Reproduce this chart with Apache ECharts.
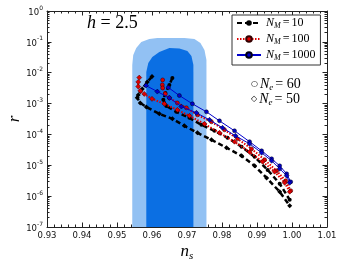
<!DOCTYPE html>
<html>
<head>
<meta charset="utf-8">
<script src="https://cdn.jsdelivr.net/npm/echarts@6/dist/echarts.min.js"></script>
<style>html,body{margin:0;padding:0;background:#fff}#c{width:342px;height:267px}</style>
</head>
<body>
<div id="c"></div>
<script>
// ---- data (ns, r) ----
const lightRegion = [[0.95436,1e-7],[0.95436,0.0179],[0.95464,0.0377],[0.95550,0.0635],[0.95693,0.0993],[0.95923,0.124],[0.96152,0.1337],[0.96926,0.1337],[0.97212,0.124],[0.97384,0.092],[0.97499,0.0547],[0.97556,0.026],[0.97556,1e-7]];
const darkRegion = [[0.95837,1e-7],[0.95837,0.0106],[0.95894,0.0208],[0.96009,0.0325],[0.96209,0.0471],[0.96496,0.0635],[0.96782,0.0611],[0.97011,0.0508],[0.97126,0.035],[0.97183,0.0179],[0.97183,1e-7]];

const black60 = [[0.96582,6.79e-3],[0.96496,4.03e-3],[0.96381,2.22e-3],[0.96324,1.32e-3],[0.96410,8.4e-4],[0.96696,5.4e-4],[0.97069,3.44e-4],[0.97413,2.05e-4],[0.97785,1.31e-4],[0.98158,7.8e-5],[0.98559,4.0e-5],[0.98931,1.88e-5],[0.99304,7.1e-6],[0.99648,2.52e-6],[0.99934,7.6e-7]];
const black50 = [[0.96000,7.48e-3],[0.95865,5.04e-3],[0.95722,2.99e-3],[0.95607,1.91e-3],[0.95579,1.53e-3],[0.95665,1.05e-3],[0.95837,7.8e-4],[0.96209,4.64e-4],[0.96582,3.2e-4],[0.96926,1.9e-4],[0.97298,1.13e-4],[0.97699,6.7e-5],[0.98129,3.7e-5],[0.98559,2.03e-5],[0.98931,9.6e-6],[0.99275,3.9e-6],[0.99648,1.39e-6],[0.99934,4.9e-7]];
const red60 = [[0.96304,5.85e-3],[0.96295,4.03e-3],[0.96304,3.22e-3],[0.96381,2.06e-3],[0.96496,1.53e-3],[0.96725,1.05e-3],[0.96983,7.3e-4],[0.97298,4.31e-4],[0.97699,2.56e-4],[0.98072,1.41e-4],[0.98444,7.2e-5],[0.98845,3.4e-5],[0.99218,1.51e-5],[0.99562,6.6e-6],[0.99819,3.15e-6],[0.99963,1.5e-6]];
const red50 = [[0.95636,6.94e-3],[0.95607,5.04e-3],[0.95607,3.55e-3],[0.95665,2.58e-3],[0.95779,2.06e-3],[0.96000,1.42e-3],[0.96352,9.8e-4],[0.96725,6.25e-4],[0.97069,4.0e-4],[0.97499,2.2e-4],[0.97928,1.13e-4],[0.98358,5.8e-5],[0.98788,2.7e-5],[0.99160,1.3e-5],[0.99504,6.2e-6],[0.99791,2.7e-6],[0.99934,1.39e-6]];
const blue60 = [[0.96467,3.30e-3],[0.96782,1.82e-3],[0.97155,9.8e-4],[0.97556,5.4e-4],[0.97928,2.75e-4],[0.98358,1.31e-4],[0.98788,5.8e-5],[0.99132,2.94e-5],[0.99418,1.62e-5],[0.99648,9.6e-6],[0.99848,5.3e-6],[0.99963,2.9e-6]];
const blue50 = [[0.95828,3.83e-3],[0.96152,2.45e-3],[0.96496,1.53e-3],[0.96840,8.0e-4],[0.97269,5.0e-4],[0.97642,2.97e-4],[0.98014,1.64e-4],[0.98387,9.0e-5],[0.98788,4.96e-5],[0.99132,2.54e-5],[0.99418,1.4e-5],[0.99648,7.7e-6],[0.99848,4.57e-6],[0.99934,2.7e-6]];

const seriesNames = ['N_M = 10', 'N_M = 100', 'N_M = 1000'];
const nmValues = ['10', '100', '1000'];
const xMin = 0.93, xMax = 1.01, xStep = 0.01;
const yMin = 1e-7, yMax = 1;

// minor log tick positions (in log10 units)
const minorLog = [];
for (let e = -7; e < 0; e++) for (let m = 2; m <= 9; m++) minorLog.push(e + Math.log10(m));

const chart = echarts.init(document.getElementById('c'), null, {renderer: 'canvas'});
const axisCol = '#222';
const tickFont = 'DejaVu Sans';
const serif = 'Liberation Serif';

function region(points, color) {
  return {
    type: 'custom', silent: true, z: 1, clip: true,
    data: [[0.965, 1e-3]],
    renderItem: function (params, api) {
      return {type: 'polygon', shape: {points: points.map(p => api.coord(p))}, style: {fill: color}};
    }
  };
}

function lineSeries(idx, data, symbol, color, lineStyle, border) {
  return {
    type: 'line', name: seriesNames[idx], data: data, z: 3 + idx,
    symbol: symbol, symbolSize: symbol === 'diamond' ? 5 : 4,
    itemStyle: {color: color, borderColor: border, borderWidth: border ? 0.5 : 0},
    lineStyle: Object.assign({color: color}, lineStyle),
    emphasis: {disabled: true}
  };
}

const blackLine = {width: 2.5, type: [5, 3]};
const redLine = {width: 2, type: [1.5, 1.5]};
const blueLine = {width: 1, type: 'solid'};

const richLegend = {
  n: {fontFamily: serif, fontStyle: 'italic', fontSize: 12, color: '#000', lineHeight: 14, verticalAlign: 'middle'},
  s: {fontFamily: serif, fontStyle: 'italic', fontSize: 8, color: '#000', lineHeight: 14, verticalAlign: 'bottom'},
  e: {fontFamily: serif, fontSize: 12, color: '#000', lineHeight: 14, padding: [0, 2, 0, 2], verticalAlign: 'middle'},
  v: {fontFamily: serif, fontSize: 12, color: '#000', lineHeight: 14, verticalAlign: 'middle'}
};

const neRich = {
  m: {fontFamily: 'DejaVu Sans', fontSize: 8, fill: '#000', lineHeight: 16, verticalAlign: 'middle', padding: [0, 2, 0, 0]},
  n: {fontFamily: serif, fontStyle: 'italic', fontSize: 14, fill: '#000', lineHeight: 16, verticalAlign: 'middle'},
  s: {fontFamily: serif, fontStyle: 'italic', fontSize: 9, fill: '#000', lineHeight: 16, verticalAlign: 'bottom', padding: [0, 2, 0, 0]},
  e: {fontFamily: serif, fontSize: 14, fill: '#000', lineHeight: 16, verticalAlign: 'middle'}
};

const option = {
  animation: false,
  grid: {left: 47, right: 15, top: 11, bottom: 40, containLabel: false, outerBoundsMode: 'none'},
  xAxis: [
    {type: 'value', min: xMin, max: xMax, interval: xStep, position: 'bottom',
     axisLine: {show: true, onZero: false, lineStyle: {color: axisCol, width: 1}},
     axisTick: {inside: true, length: 4.5, lineStyle: {color: axisCol}},
     minorTick: {show: true, splitNumber: 5, length: 2.5, lineStyle: {color: axisCol}},
     splitLine: {show: false},
     axisLabel: {margin: 4, fontFamily: tickFont, fontSize: 8.5, color: '#111', formatter: v => v.toFixed(2)},
     name: '{n|n}{s|s}', nameLocation: 'middle', nameGap: 15, nameMoveOverlap: false,
     nameTextStyle: {rich: {
       n: {fontFamily: serif, fontStyle: 'italic', fontSize: 17, color: '#000', lineHeight: 20, verticalAlign: 'middle'},
       s: {fontFamily: serif, fontStyle: 'italic', fontSize: 11, color: '#000', lineHeight: 20, verticalAlign: 'bottom'}}}
    },
    {type: 'value', min: xMin, max: xMax, interval: xStep, position: 'top',
     axisLine: {show: true, onZero: false, lineStyle: {color: axisCol, width: 1}},
     axisTick: {inside: true, length: 4.5, lineStyle: {color: axisCol}},
     minorTick: {show: true, splitNumber: 5, length: 2.5, lineStyle: {color: axisCol}},
     splitLine: {show: false}, axisLabel: {show: false}}
  ],
  yAxis: [
    {type: 'log', logBase: 10, min: yMin, max: yMax, position: 'left',
     axisLine: {show: true, onZero: false, lineStyle: {color: axisCol, width: 1}},
     axisTick: {inside: true, length: 4.5, lineStyle: {color: axisCol}},
     splitLine: {show: false},
     axisLabel: {margin: 4, formatter: v => '{b|10}{p|' + Math.round(Math.log10(v)) + '}',
       rich: {b: {fontFamily: tickFont, fontSize: 8.5, color: '#111', lineHeight: 12, verticalAlign: 'bottom'},
              p: {fontFamily: tickFont, fontSize: 6, color: '#111', lineHeight: 12, verticalAlign: 'top'}}},
     name: 'r', nameLocation: 'middle', nameGap: 24, nameRotate: 90, nameMoveOverlap: false,
     nameTextStyle: {fontFamily: serif, fontStyle: 'italic', fontSize: 17, color: '#000'}
    },
    {type: 'value', min: -7, max: 0, position: 'left',
     axisLine: {show: false, onZero: false}, splitLine: {show: false}, axisLabel: {show: false},
     axisTick: {show: true, inside: true, length: 2.5, customValues: minorLog, lineStyle: {color: axisCol}}},
    {type: 'log', logBase: 10, min: yMin, max: yMax, position: 'right',
     axisLine: {show: true, onZero: false, lineStyle: {color: axisCol, width: 1}},
     axisTick: {inside: true, length: 4.5, lineStyle: {color: axisCol}},
     splitLine: {show: false}, axisLabel: {show: false}},
    {type: 'value', min: -7, max: 0, position: 'right',
     axisLine: {show: false, onZero: false}, splitLine: {show: false}, axisLabel: {show: false},
     axisTick: {show: true, inside: true, length: 2.5, customValues: minorLog, lineStyle: {color: axisCol}}}
  ],
  legend: {
    data: seriesNames, orient: 'vertical', left: 232, top: 15,
    padding: [2, 5, 3, 4], itemGap: 3, itemWidth: 24, itemHeight: 7,
    borderColor: '#333', borderWidth: 1, backgroundColor: '#fff',
    selectedMode: false,
    formatter: name => '{n|N}{s|M}{e|=}{v|' + nmValues[seriesNames.indexOf(name)] + '}',
    textStyle: {rich: richLegend}
  },
  graphic: [
    {type: 'text', left: 87, top: 14, style: {
      text: '{i|h}{u| = 2.5}',
      rich: {i: {fontFamily: serif, fontStyle: 'italic', fontSize: 18, fill: '#000'},
             u: {fontFamily: serif, fontSize: 18, fill: '#000'}}}},
    {type: 'text', left: 251, top: 77, style: {text: '{m|○}{n|N}{s|e}{e|= 60}', rich: neRich}},
    {type: 'text', left: 251, top: 92, style: {text: '{m|◇}{n|N}{s|e}{e|= 50}', rich: neRich}}
  ],
  series: [
    region(lightRegion, '#92c1f3'),
    region(darkRegion, '#0b6fe3'),
    lineSeries(0, black60, 'circle', '#000', blackLine, null),
    lineSeries(0, black50, 'diamond', '#000', blackLine, null),
    lineSeries(1, red60, 'circle', '#e00000', redLine, '#300'),
    lineSeries(1, red50, 'diamond', '#e00000', redLine, '#300'),
    lineSeries(2, blue60, 'circle', '#0000cc', blueLine, '#001'),
    lineSeries(2, blue50, 'diamond', '#0000cc', blueLine, '#001')
  ]
};
chart.setOption(option);
</script>
</body>
</html>
